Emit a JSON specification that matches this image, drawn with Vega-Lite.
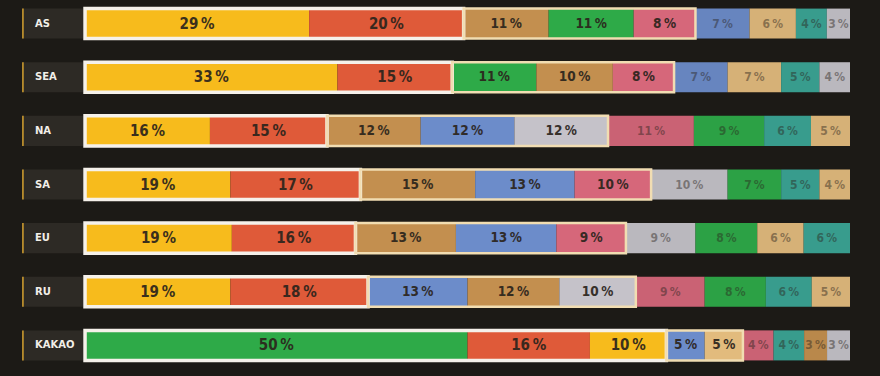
{
  "$schema": "https://vega.github.io/schema/vega-lite/v6.json",
  "width": 828,
  "height": 369,
  "autosize": {"type": "none"},
  "padding": {"left": 22, "top": 0, "right": 30, "bottom": 7},
  "background": "#1c1a16",
  "config": {"view": {"stroke": null}},
  "data": {"values": [
    {"region": "AS", "cat": "yellow", "v": 29, "tier": 1, "ord": 1},
    {"region": "AS", "cat": "red", "v": 20, "tier": 1, "ord": 2},
    {"region": "AS", "cat": "brown", "v": 11, "tier": 2, "ord": 3},
    {"region": "AS", "cat": "green", "v": 11, "tier": 2, "ord": 4},
    {"region": "AS", "cat": "pink", "v": 8, "tier": 2, "ord": 5},
    {"region": "AS", "cat": "blue", "v": 7, "tier": 3, "ord": 6},
    {"region": "AS", "cat": "tan", "v": 6, "tier": 3, "ord": 7},
    {"region": "AS", "cat": "teal", "v": 4, "tier": 3, "ord": 8},
    {"region": "AS", "cat": "grey", "v": 3, "tier": 3, "ord": 9},
    {"region": "SEA", "cat": "yellow", "v": 33, "tier": 1, "ord": 1},
    {"region": "SEA", "cat": "red", "v": 15, "tier": 1, "ord": 2},
    {"region": "SEA", "cat": "green", "v": 11, "tier": 2, "ord": 3},
    {"region": "SEA", "cat": "brown", "v": 10, "tier": 2, "ord": 4},
    {"region": "SEA", "cat": "pink", "v": 8, "tier": 2, "ord": 5},
    {"region": "SEA", "cat": "blue", "v": 7, "tier": 3, "ord": 6},
    {"region": "SEA", "cat": "tan", "v": 7, "tier": 3, "ord": 7},
    {"region": "SEA", "cat": "teal", "v": 5, "tier": 3, "ord": 8},
    {"region": "SEA", "cat": "grey", "v": 4, "tier": 3, "ord": 9},
    {"region": "NA", "cat": "yellow", "v": 16, "tier": 1, "ord": 1},
    {"region": "NA", "cat": "red", "v": 15, "tier": 1, "ord": 2},
    {"region": "NA", "cat": "brown", "v": 12, "tier": 2, "ord": 3},
    {"region": "NA", "cat": "blue", "v": 12, "tier": 2, "ord": 4},
    {"region": "NA", "cat": "grey", "v": 12, "tier": 2, "ord": 5},
    {"region": "NA", "cat": "pink", "v": 11, "tier": 3, "ord": 6},
    {"region": "NA", "cat": "green", "v": 9, "tier": 3, "ord": 7},
    {"region": "NA", "cat": "teal", "v": 6, "tier": 3, "ord": 8},
    {"region": "NA", "cat": "tan", "v": 5, "tier": 3, "ord": 9},
    {"region": "SA", "cat": "yellow", "v": 19, "tier": 1, "ord": 1},
    {"region": "SA", "cat": "red", "v": 17, "tier": 1, "ord": 2},
    {"region": "SA", "cat": "brown", "v": 15, "tier": 2, "ord": 3},
    {"region": "SA", "cat": "blue", "v": 13, "tier": 2, "ord": 4},
    {"region": "SA", "cat": "pink", "v": 10, "tier": 2, "ord": 5},
    {"region": "SA", "cat": "grey", "v": 10, "tier": 3, "ord": 6},
    {"region": "SA", "cat": "green", "v": 7, "tier": 3, "ord": 7},
    {"region": "SA", "cat": "teal", "v": 5, "tier": 3, "ord": 8},
    {"region": "SA", "cat": "tan", "v": 4, "tier": 3, "ord": 9},
    {"region": "EU", "cat": "yellow", "v": 19, "tier": 1, "ord": 1},
    {"region": "EU", "cat": "red", "v": 16, "tier": 1, "ord": 2},
    {"region": "EU", "cat": "brown", "v": 13, "tier": 2, "ord": 3},
    {"region": "EU", "cat": "blue", "v": 13, "tier": 2, "ord": 4},
    {"region": "EU", "cat": "pink", "v": 9, "tier": 2, "ord": 5},
    {"region": "EU", "cat": "grey", "v": 9, "tier": 3, "ord": 6},
    {"region": "EU", "cat": "green", "v": 8, "tier": 3, "ord": 7},
    {"region": "EU", "cat": "tan", "v": 6, "tier": 3, "ord": 8},
    {"region": "EU", "cat": "teal", "v": 6, "tier": 3, "ord": 9},
    {"region": "RU", "cat": "yellow", "v": 19, "tier": 1, "ord": 1},
    {"region": "RU", "cat": "red", "v": 18, "tier": 1, "ord": 2},
    {"region": "RU", "cat": "blue", "v": 13, "tier": 2, "ord": 3},
    {"region": "RU", "cat": "brown", "v": 12, "tier": 2, "ord": 4},
    {"region": "RU", "cat": "grey", "v": 10, "tier": 2, "ord": 5},
    {"region": "RU", "cat": "pink", "v": 9, "tier": 3, "ord": 6},
    {"region": "RU", "cat": "green", "v": 8, "tier": 3, "ord": 7},
    {"region": "RU", "cat": "teal", "v": 6, "tier": 3, "ord": 8},
    {"region": "RU", "cat": "tan", "v": 5, "tier": 3, "ord": 9},
    {"region": "KAKAO", "cat": "green", "v": 50, "tier": 1, "ord": 1},
    {"region": "KAKAO", "cat": "red", "v": 16, "tier": 1, "ord": 2},
    {"region": "KAKAO", "cat": "yellow", "v": 10, "tier": 1, "ord": 3},
    {"region": "KAKAO", "cat": "blue", "v": 5, "tier": 2, "ord": 4},
    {"region": "KAKAO", "cat": "tan", "v": 5, "tier": 2, "ord": 5},
    {"region": "KAKAO", "cat": "pink", "v": 4, "tier": 3, "ord": 6},
    {"region": "KAKAO", "cat": "teal", "v": 4, "tier": 3, "ord": 7},
    {"region": "KAKAO", "cat": "brown", "v": 3, "tier": 3, "ord": 8},
    {"region": "KAKAO", "cat": "grey", "v": 3, "tier": 3, "ord": 9}
  ]},
  "transform": [
    {"stack": "v", "groupby": ["region"], "sort": [{"field": "ord"}], "offset": "normalize", "as": ["x0", "x1"]},
    {"calculate": "(datum.x0 + datum.x1) / 2", "as": "mid"},
    {"calculate": "datum.v + '\u2009%'", "as": "lbl"}
  ],
  "encoding": {
    "y": {"field": "region", "type": "nominal", "sort": ["AS", "SEA", "NA", "SA", "EU", "RU", "KAKAO"],
      "scale": {"paddingInner": 0.44, "paddingOuter": 0.16}, "axis": null}
  },
  "layer": [
    {
      "transform": [{"aggregate": [{"op": "count", "as": "n"}], "groupby": ["region"]}],
      "mark": {"type": "rect", "color": "#2d2a25"},
      "encoding": {
        "x": {"datum": -0.0824, "type": "quantitative", "scale": {"domain": [-0.0824, 1], "nice": false, "zero": false}, "axis": null},
        "x2": {"datum": -0.0026}
      }
    },
    {
      "transform": [{"aggregate": [{"op": "count", "as": "n"}], "groupby": ["region"]}],
      "mark": {"type": "rect", "color": "#b58a2c"},
      "encoding": {
        "x": {"datum": -0.0824, "type": "quantitative"},
        "x2": {"datum": -0.0800}
      }
    },
    {
      "transform": [{"aggregate": [{"op": "count", "as": "n"}], "groupby": ["region"]}],
      "mark": {"type": "text", "align": "left", "dx": 13, "font": "DejaVu Sans", "fontWeight": "bold", "fontSize": 10, "color": "#f2efe8"},
      "encoding": {
        "x": {"datum": -0.0824, "type": "quantitative"},
        "text": {"field": "region"}
      }
    },
    {
      "mark": {"type": "rect"},
      "encoding": {
        "x": {"field": "x0", "type": "quantitative"},
        "x2": {"field": "x1"},
        "color": {"field": "cat", "type": "nominal", "legend": null,
          "scale": {"domain": ["yellow", "red", "brown", "green", "pink", "blue", "tan", "teal", "grey"],
            "range": ["#f7bb1c", "#df5a39", "#c38f4f", "#2eaa48", "#d6677a", "#6c8cca", "#e2bb7d", "#3aa595", "#c5c2c9"]}},
        "opacity": {"condition": {"test": "datum.tier == 3", "value": 0.94}, "value": 1}
      }
    },
    {
      "transform": [
        {"aggregate": [{"op": "min", "field": "x0", "as": "t0"}, {"op": "max", "field": "x1", "as": "t1"}], "groupby": ["region", "tier"]},
        {"filter": "datum.tier < 3"}
      ],
      "mark": {"type": "rect", "fill": null, "fillOpacity": 0},
      "encoding": {
        "x": {"field": "t0", "type": "quantitative"},
        "x2": {"field": "t1"},
        "stroke": {"field": "tier", "type": "ordinal", "legend": null, "scale": {"domain": [1, 2], "range": ["#f5f1ea", "#f1ddb2"]}},
        "strokeWidth": {"field": "tier", "type": "ordinal", "legend": null, "scale": {"domain": [1, 2], "range": [3.5, 2.5]}}
      }
    },
    {
      "mark": {"type": "text", "font": "DejaVu Sans Condensed", "fontWeight": "bold", "color": "#2b241c"},
      "encoding": {
        "x": {"field": "mid", "type": "quantitative"},
        "text": {"field": "lbl"},
        "size": {"field": "tier", "type": "ordinal", "legend": null, "scale": {"domain": [1, 2, 3], "range": [15, 12, 11]}},
        "opacity": {"condition": {"test": "datum.tier == 3", "value": 0.45}, "value": 0.92}
      }
    }
  ]
}
